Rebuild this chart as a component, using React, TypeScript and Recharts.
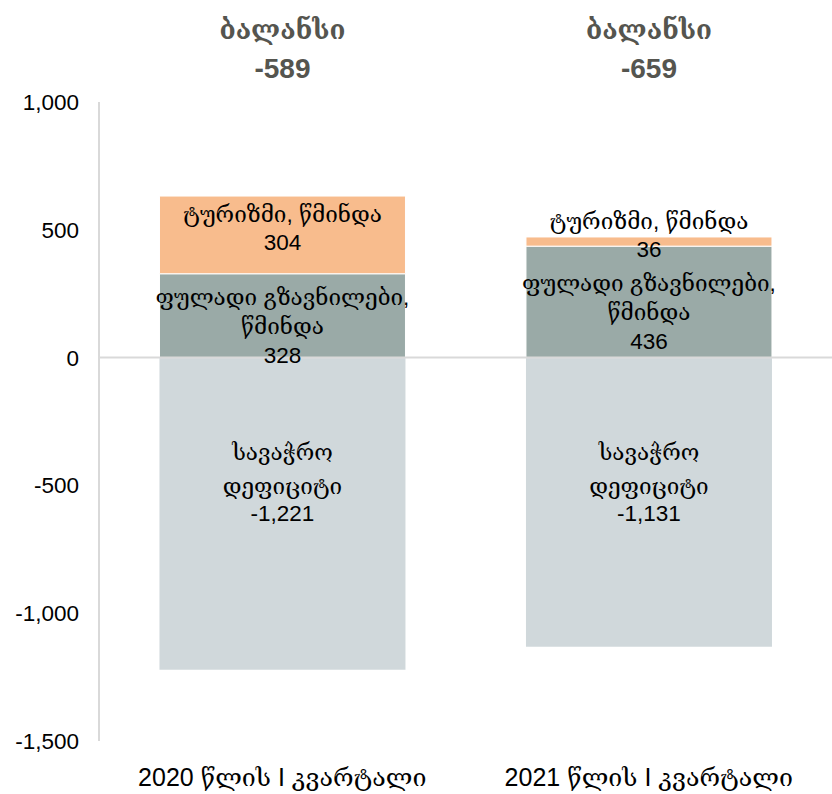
import React from "react"
import { BarChart, Bar, XAxis, YAxis, ReferenceLine, LabelList } from "recharts"

const periods = ["2020 წლის I კვარტალი", "2021 წლის I კვარტალი"]
const tradeDeficit = [-1221, -1131]
const remittances = [328, 436]
const tourism = [304, 36]
const yTicks = [-1500, -1000, -500, 0, 500, 1000]

const data = periods.map((p, i) => ({
  period: p,
  trade: tradeDeficit[i],
  remit: remittances[i],
  tour: tourism[i],
  balance: tradeDeficit[i] + remittances[i] + tourism[i],
}))

const FONT = "'Liberation Sans', Arial, 'DejaVu Serif', sans-serif"
const fmt = (v: number) => v.toLocaleString("en-US")

function lines(x: number, y: number, w: number, rows: string[], offs: number[], key: string) {
  return (
    <g key={key}>
      {rows.map((r, i) => (
        <text key={i} x={x + w / 2} y={y + offs[i]} textAnchor="middle" dominantBaseline="central"
          fontSize={22.5} fontFamily={FONT} fill="#000">{r}</text>
      ))}
    </g>
  )
}

const tradeLabel = (p: any) => {
  const { x, y, width, value, index } = p
  const top = Math.min(y, y + p.height)
  const bal = data[index].balance
  return (
    <g>
      {lines(x, top, width, ["სავაჭრო", "დეფიციტი", fmt(value)], [95, 129, 156], "t")}
      <text x={x + width / 2} y={30} textAnchor="middle" dominantBaseline="central"
        fontSize={26} fontWeight="bold" fontFamily={FONT} fill="#55554f">ბალანსი</text>
      <text x={x + width / 2} y={68} textAnchor="middle" dominantBaseline="central"
        fontSize={28} fontWeight="bold" fontFamily={FONT} fill="#55554f">{fmt(bal)}</text>
    </g>
  )
}

const remitLabel = (p: any) => {
  const { x, y, width, height, value } = p
  const cy = y + height / 2
  return lines(x, cy, width, ["ფულადი გზავნილები,", "წმინდა", fmt(value)], [-18, 11, 40], "r")
}

const tourLabel = (p: any) => {
  const { x, y, width, height, value } = p
  const cy = y + height / 2
  return lines(x, cy, width, ["ტურიზმი, წმინდა", fmt(value)], [-20, 8], "o")
}

export default function App() {
  return (
    <div style={{ position: "absolute", left: 0, top: 0, background: "#fff" }}>
      <BarChart width={832} height={794} data={data} stackOffset="sign" barCategoryGap="16.5%"
        margin={{ top: 102, right: 0, left: 2, bottom: 0 }}>
        <XAxis dataKey="period" axisLine={false} tickLine={false} height={53}
          tick={{ fontSize: 25, fill: "#000", fontFamily: FONT, dy: 19 }} />
        <YAxis domain={[-1500, 1000]} ticks={yTicks} width={97} tickLine={false} tickMargin={14}
          axisLine={{ stroke: "#d9d9d9", strokeWidth: 2 }} tickFormatter={fmt}
          tick={{ fontSize: 22.5, fill: "#000", fontFamily: FONT }} />
        <Bar dataKey="trade" stackId="a" fill="#d0d8db" isAnimationActive={false}>
          <LabelList dataKey="trade" content={tradeLabel} />
        </Bar>
        <Bar dataKey="remit" stackId="a" fill="#9aaaa7" stroke="#fff" strokeWidth={1} isAnimationActive={false}>
          <LabelList dataKey="remit" content={remitLabel} />
        </Bar>
        <Bar dataKey="tour" stackId="a" fill="#f8bc8d" stroke="#fff" strokeWidth={1} isAnimationActive={false}>
          <LabelList dataKey="tour" content={tourLabel} />
        </Bar>
        <ReferenceLine y={0} stroke="#d9d9d9" strokeWidth={2} />
      </BarChart>
    </div>
  )
}
